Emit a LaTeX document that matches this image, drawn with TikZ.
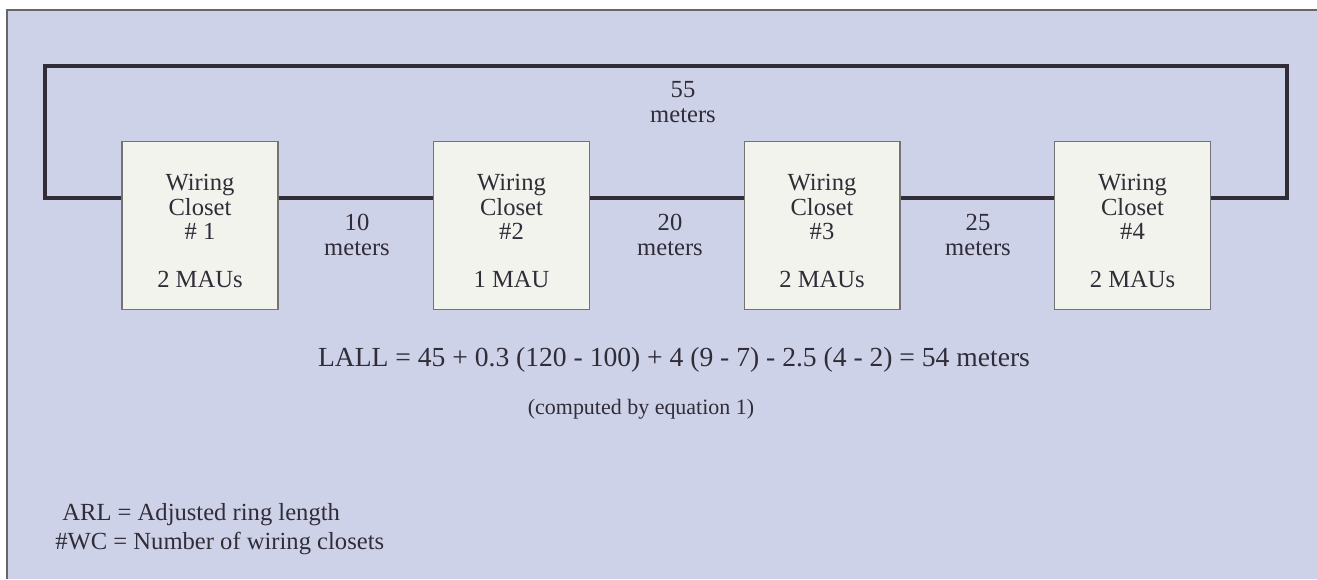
\documentclass[tikz,border=0pt]{standalone}
\usepackage{fontspec}
\setmainfont{Liberation Serif}
\usepackage{xcolor}
\usetikzlibrary{positioning}
\definecolor{panel}{RGB}{206,210,232}
\definecolor{closetfill}{RGB}{243,243,237}
\definecolor{ink}{RGB}{48,44,56}

\begin{document}
\begin{tikzpicture}[x=0.02cm, y=-0.02cm,
  closet/.style={draw=black!55, line width=0.6pt, fill=closetfill, align=center,
                 minimum width=3.12cm, minimum height=3.37cm, inner sep=0pt,
                 font=\fontsize{14}{13.8}\selectfont, text=ink},
  lbl/.style={align=center, font=\fontsize{14}{13.8}\selectfont, text=ink, inner sep=0pt},
  ring/.style={draw=ink, line width=1.8pt, line join=miter}
]
\useasboundingbox (0,0) rectangle (1317,579);
\fill[panel] (7,10) rectangle (1317,579);
\draw[black!60, line width=0.8pt] (7,579) -- (7,10) -- (1317,10);

\coordinate (lvl) at (0,198);
\coordinate (ringTL) at (45,66);
\coordinate (ringTR) at (1287,66);

\node[closet] (wc1) at (200,225.5) {\rule{0pt}{16pt}Wiring\\Closet\\\# 1\\[13.8pt]2 MAUs};
\node[closet] (wc2) at (511.5,225.5) {\rule{0pt}{16pt}Wiring\\Closet\\\#2\\[13.8pt]1 MAU};
\node[closet] (wc3) at (822,225.5) {\rule{0pt}{16pt}Wiring\\Closet\\\#3\\[13.8pt]2 MAUs};
\node[closet] (wc4) at (1132.5,225.5) {\rule{0pt}{16pt}Wiring\\Closet\\\#4\\[13.8pt]2 MAUs};

\draw[ring] (wc1.east |- lvl) -- (wc2.west |- lvl);
\draw[ring] (wc2.east |- lvl) -- (wc3.west |- lvl);
\draw[ring] (wc3.east |- lvl) -- (wc4.west |- lvl);
\draw[ring] (wc1.west |- lvl) -| (ringTL) -- (ringTR) |- (wc4.east |- lvl);

\node[lbl] (d55) at (683,102) {55\\meters};
\node[lbl] (d10) at (357,235) {10\\meters};
\node[lbl] (d20) at (670,235) {20\\meters};
\node[lbl] (d25) at (978,235) {25\\meters};

\node[lbl, font=\fontsize{15.7}{16}\selectfont] (lall) at (674,360) {LALL = 45 + 0.3 (120 - 100) + 4 (9 - 7) - 2.5 (4 - 2) = 54 meters};
\node[lbl, font=\fontsize{12.5}{13.6}\selectfont] (comp) at (641,409) {(computed by equation 1)};
\node[lbl, anchor=west] (arl) at (62,515) {ARL = Adjusted ring length};
\node[lbl, anchor=west] (nwc) at (55,543) {\#WC = Number of wiring closets};
\end{tikzpicture}
\end{document}
